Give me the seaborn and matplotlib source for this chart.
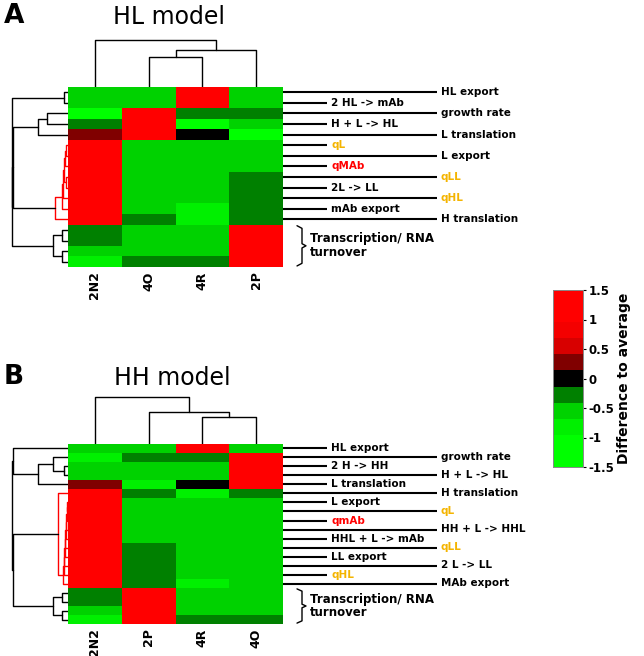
import numpy as np
import pandas as pd
import seaborn as sns
import matplotlib.pyplot as plt
from matplotlib.colors import ListedColormap
from matplotlib import transforms

# ---------------- data ----------------
cols_A = ['2N2', '4O', '4R', '2P']
vals_A = [
    [-0.5, -0.5, 1.5, -0.5],
    [-0.5, -0.5, 1.5, -0.5],
    [-1.0, 1.6, -0.3, -0.3],
    [-0.3, 1.5, -1.0, -0.5],
    [0.3, 1.4, 0.0, -1.0],
    [1.5, -0.5, -0.5, -0.5],
    [1.5, -0.5, -0.5, -0.5],
    [1.5, -0.5, -0.5, -0.5],
    [1.5, -0.5, -0.5, -0.3],
    [1.5, -0.5, -0.5, -0.3],
    [1.5, -0.5, -0.5, -0.3],
    [1.5, -0.5, -0.9, -0.3],
    [1.5, -0.3, -0.9, -0.3],
    [-0.3, -0.5, -0.5, 1.5],
    [-0.3, -0.5, -0.5, 1.5],
    [-0.5, -0.5, -0.5, 1.5],
    [-0.9, -0.3, -0.3, 1.5],
]
labels_A = ['HL export', '2 HL -> mAb', 'growth rate', 'H + L -> HL', 'L translation',
            'qL', 'L export', 'qMAb', 'qLL', '2L -> LL', 'qHL', 'mAb export', 'H translation']
# linkage: (child a, child b, height); leaves are rows in display order
rowlink_A = [(0, 1, 4), (2, 3, 21), (18, 4, 30), (5, 6, 2), (20, 7, 3), (8, 9, 2),
             (21, 22, 4), (23, 10, 5), (24, 11, 6), (25, 12, 13), (13, 14, 6),
             (15, 16, 6), (27, 28, 15), (19, 26, 54.7), (30, 29, 55.7), (17, 31, 56.3)]
collink_A = [(1, 2, 30), (4, 3, 37), (0, 5, 47)]
red_rows_A = list(range(5, 13))

cols_B = ['2N2', '2P', '4R', '4O']
vals_B = [
    [-0.5, -0.5, 1.5, -0.5],
    [-0.9, -0.3, -0.3, 1.5],
    [-0.5, -0.5, -0.5, 1.5],
    [-0.5, -0.5, -0.5, 1.5],
    [0.3, -0.9, 0.0, 1.5],
    [1.5, -0.3, -0.9, -0.3],
    [1.5, -0.5, -0.5, -0.5],
    [1.5, -0.5, -0.5, -0.5],
    [1.5, -0.5, -0.5, -0.5],
    [1.5, -0.5, -0.5, -0.5],
    [1.5, -0.5, -0.5, -0.5],
    [1.5, -0.3, -0.5, -0.5],
    [1.5, -0.3, -0.5, -0.5],
    [1.5, -0.3, -0.5, -0.5],
    [1.5, -0.3, -0.5, -0.5],
    [1.5, -0.3, -0.9, -0.5],
    [-0.3, 1.5, -0.5, -0.5],
    [-0.3, 1.5, -0.5, -0.5],
    [-0.5, 1.5, -0.5, -0.5],
    [-0.9, 1.5, -0.3, -0.3],
]
labels_B = ['HL export', 'growth rate', '2 H -> HH', 'H + L -> HL', 'L translation',
            'H translation', 'L export', 'qL', 'qmAb', 'HH + L -> HHL', 'HHL + L -> mAb',
            'qLL', 'LL export', '2 L -> LL', 'qHL', 'MAb export']
rowlink_B = [(2, 3, 4), (1, 20, 15), (21, 4, 30), (0, 22, 54.7),
             (6, 7, 1), (24, 8, 1.5), (25, 9, 2), (26, 10, 2.5), (27, 11, 3),
             (28, 12, 3.5), (29, 13, 4), (30, 14, 4.5), (31, 15, 5), (5, 32, 10),
             (16, 17, 6), (18, 19, 6), (34, 35, 15), (33, 36, 55.3), (23, 37, 56.3)]
collink_B = [(2, 3, 27), (1, 4, 32), (0, 5, 47)]
red_rows_B = list(range(5, 16))

cbar_ticks = [1.5, 1, 0.5, 0, -0.5, -1, -1.5]

# ---------------- style ----------------
sns.set_style('white')
plt.rcParams.update({'text.color': 'black', 'xtick.color': 'black',
                     'ytick.color': 'black', 'axes.labelcolor': 'black'})
gold = '#F4B400'
label_colors = {'qL': gold, 'qLL': gold, 'qHL': gold, 'qMAb': '#FF0000', 'qmAb': '#FF0000'}
cmap = ListedColormap(['#00FF00', '#00FF00', '#00F000', '#00D200', '#008000', '#000000',
                       '#800000', '#D80000', '#F40000', '#FF0000', '#FF0000'])

W, H = 644, 656
fig = plt.figure(figsize=(W / 100, H / 100), dpi=100)


def box(x0, y0, x1, y1):
    # pixel box (top-left origin) -> figure fraction rect
    return [x0 / W, 1 - y1 / H, (x1 - x0) / W, (y1 - y0) / H]


def dendro(links, n):
    pos = {i: i + 0.5 for i in range(n)}
    hgt = {i: 0.0 for i in range(n)}
    leaves = {i: {i} for i in range(n)}
    out = []
    for k, (a, b, h) in enumerate(links):
        lv = leaves[a] | leaves[b]
        out.append((pos[a], hgt[a], pos[b], hgt[b], h, lv))
        pos[n + k] = (pos[a] + pos[b]) / 2
        hgt[n + k] = h
        leaves[n + k] = lv
    return out


def panel(top, cols, vals, labels, rowlink, collink, red_rows, first_long, cax=None):
    n = len(vals)
    df = pd.DataFrame(vals, columns=cols)
    ax = fig.add_axes(box(68, top, 283, top + 180))
    sns.heatmap(df, ax=ax, cmap=cmap, vmin=-1.5, vmax=1.5, yticklabels=False,
                cbar=cax is not None, cbar_ax=cax)
    ax.tick_params(axis='x', length=0, pad=3)
    plt.setp(ax.get_xticklabels(), rotation=90, fontweight='bold', fontsize=9)

    # row dendrogram
    axr = fig.add_axes(box(0, top, 68, top + 180))
    red = set(red_rows)
    for pa, ha, pb, hb, h, lv in dendro(rowlink, n):
        c = 'red' if lv <= red else 'black'
        axr.plot([ha, h, h, hb], [pa, pa, pb, pb], color=c, lw=1)
    axr.set_xlim(68, 0)
    axr.set_ylim(n, 0)
    axr.axis('off')

    # column dendrogram
    axc = fig.add_axes(box(68, top - 57, 283, top))
    for pa, ha, pb, hb, h, lv in dendro(collink, len(cols)):
        axc.plot([pa, pa, pb, pb], [ha, h, h, hb], color='black', lw=1)
    axc.set_xlim(0, len(cols))
    axc.set_ylim(0, 57)
    axc.axis('off')

    # row labels with leader lines
    tr = transforms.blended_transform_factory(ax.transAxes, ax.transData)
    for i, name in enumerate(labels):
        is_long = (i % 2 == 0) == first_long
        x_end = 1 + 154 / 215 if is_long else 1 + 44 / 215
        y = i + 0.5
        ax.plot([1.0, x_end], [y, y], transform=tr, color='black', lw=1.5,
                clip_on=False, solid_capstyle='butt')
        ax.text(x_end + 4 / 215, y, name, transform=tr, ha='left', va='center',
                fontsize=7.5, fontweight='bold', color=label_colors.get(name, 'black'))

    # transcription brace
    y0, y1 = len(labels) + 0.1, n - 0.1
    ym = (y0 + y1) / 2
    xa, xb, xc = 1 + 14 / 215, 1 + 19 / 215, 1 + 23 / 215
    ax.plot([xa, xb, xb, xc, xb, xb, xa], [y0, y0 + 0.25, ym - 0.2, ym, ym + 0.2, y1 - 0.25, y1],
            transform=tr, color='black', lw=1, clip_on=False)
    ax.text(1 + 27 / 215, ym, 'Transcription/ RNA\nturnover', transform=tr, ha='left',
            va='center', fontsize=8.5, fontweight='bold', linespacing=1.1)
    return ax


cax = fig.add_axes(box(553, 290, 583, 467))
panel(87, cols_A, vals_A, labels_A, rowlink_A, collink_A, red_rows_A, True, cax=cax)
panel(444, cols_B, vals_B, labels_B, rowlink_B, collink_B, red_rows_B, False)

cax.set_yticks(cbar_ticks)
cax.set_yticklabels([f'{t:g}' for t in cbar_ticks], fontweight='bold', fontsize=8.5)
cax.tick_params(axis='y', length=2, width=0.8, pad=2)
for s in cax.spines.values():
    s.set_visible(True)
    s.set_color('#888888')
    s.set_linewidth(0.6)
fig.text(624 / W, 1 - 378 / H, 'Difference to average', rotation=90, ha='center',
         va='center', fontsize=10, fontweight='bold')

fig.text(169 / W, 1 - 17 / H, 'HL model', ha='center', va='center', fontsize=17)
fig.text(172 / W, 1 - 378 / H, 'HH model', ha='center', va='center', fontsize=17)
fig.text(4 / W, 1 - 16 / H, 'A', ha='left', va='center', fontsize=19, fontweight='bold')
fig.text(4 / W, 1 - 377 / H, 'B', ha='left', va='center', fontsize=19, fontweight='bold')

fig.savefig('out.png', dpi=100)
